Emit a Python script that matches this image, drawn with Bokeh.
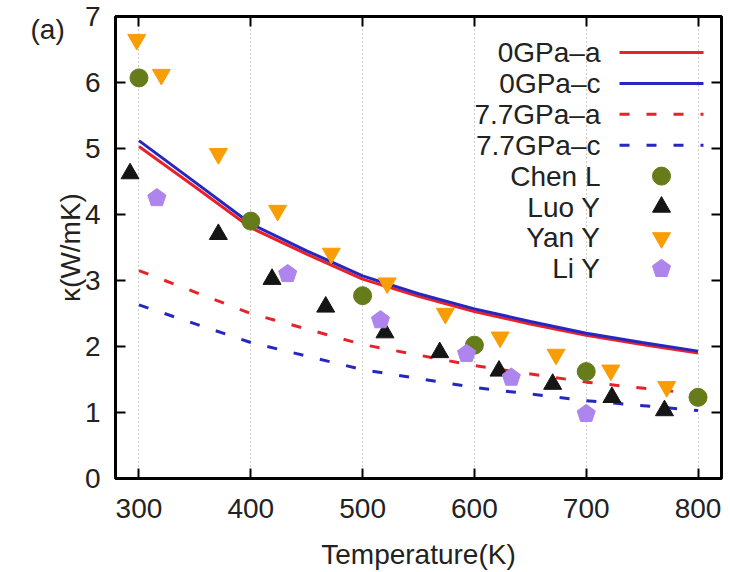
import math
from bokeh.plotting import figure
from bokeh.models import LinearAxis, FixedTicker, Label, Range1d
from bokeh.embed import file_html
from bokeh.resources import INLINE

# ---------------- data ----------------
T_fine = [300, 350, 400, 450, 500, 550, 600, 650, 700, 750, 800]
k_0a = [5.03, 4.42, 3.80, 3.40, 3.02, 2.76, 2.53, 2.34, 2.17, 2.03, 1.90]
k_0c = [5.12, 4.49, 3.86, 3.45, 3.07, 2.80, 2.57, 2.38, 2.20, 2.06, 1.93]

T_hp = [300, 400, 500, 600, 700, 800]
k_77a = [3.15, 2.50, 2.03, 1.71, 1.46, 1.28]
k_77c = [2.63, 2.06, 1.65, 1.38, 1.18, 1.03]

chen_T = [300, 400, 500, 600, 700, 800]
chen_k = [6.07, 3.90, 2.77, 2.02, 1.62, 1.23]

luo_T = [292, 371, 419, 467, 520, 569, 622, 670, 723, 770]
luo_k = [4.62, 3.70, 3.02, 2.60, 2.21, 1.91, 1.63, 1.43, 1.23, 1.03]

yan_T = [298, 320, 371, 424, 472, 522, 574, 623, 673, 722, 772]
yan_k = [6.65, 6.12, 4.92, 4.06, 3.41, 2.96, 2.50, 2.14, 1.88, 1.64, 1.39]

li_T = [316, 433, 516, 593, 633, 700]
li_k = [4.25, 3.10, 2.40, 1.89, 1.53, 0.98]

x_ticks = [300, 400, 500, 600, 700, 800]
y_ticks = [0, 1, 2, 3, 4, 5, 6, 7]

legend_labels = ["0GPa\u2013a", "0GPa\u2013c", "7.7GPa\u2013a", "7.7GPa\u2013c",
                 "Chen L", "Luo Y", "Yan Y", "Li Y"]

# ---------------- style ----------------
RED = "#e8222a"
BLUE = "#2626c0"
OLIVE = "#667b1a"
ORANGE = "#f99d05"
PURPLE = "#ad85ec"
BLACK = "#151515"
FONT = "Liberation Sans"
FS = "28px"

W, H = 730, 572
FL, FR, FT, FB = 115, 721, 16, 478
X0, X1, Y0, Y1 = 279, 821, 0, 7
XPX = (X1 - X0) / (FR - FL)   # data units per pixel, x
YPX = (Y1 - Y0) / (FB - FT)   # data units per pixel, y


def dx(px):
    return X0 + (px - FL) * XPX


def dy(py):
    return Y1 - (py - FT) * YPX


p = figure(width=W, height=H, output_backend="svg", toolbar_location=None,
           x_range=Range1d(X0, X1), y_range=Range1d(Y0, Y1),
           min_border_left=FL, min_border_right=W - FR,
           min_border_top=FT, min_border_bottom=H - FB,
           background_fill_color="white", border_fill_color="white")
p.outline_line_color = "black"
p.outline_line_width = 3
p.outline_line_alpha = 1

# axes
for ax in (p.xaxis[0], p.yaxis[0]):
    ax.axis_line_color = None
    ax.major_tick_in = 10
    ax.major_tick_out = 0
    ax.major_tick_line_width = 2
    ax.major_tick_line_color = "black"
    ax.minor_tick_line_color = None
    ax.major_label_text_font = FONT
    ax.major_label_text_font_size = FS
    ax.major_label_text_color = "#222222"
    ax.axis_label_text_font = FONT
    ax.axis_label_text_font_size = FS
    ax.axis_label_text_font_style = "normal"
    ax.axis_label_text_color = "#222222"

p.yaxis[0].minor_tick_out = 0
p.xaxis[0].ticker = FixedTicker(ticks=x_ticks)
p.yaxis[0].ticker = FixedTicker(ticks=y_ticks)
p.xaxis[0].axis_label = "Temperature(K)"
p.yaxis[0].axis_label = "\u03ba(W/mK)"
p.xaxis[0].major_label_standoff = 20
p.yaxis[0].major_label_standoff = 15
p.xaxis[0].axis_label_standoff = 18
p.yaxis[0].axis_label_standoff = -4

for loc, tk in (("above", x_ticks), ("right", y_ticks)):
    ax = LinearAxis(ticker=FixedTicker(ticks=tk))
    ax.axis_line_color = None
    ax.major_tick_in = 10
    ax.major_tick_out = 0
    ax.minor_tick_out = 0
    ax.major_tick_line_width = 2
    ax.minor_tick_line_color = None
    ax.major_label_text_font_size = "0px"
    ax.major_label_text_color = None
    ax.major_label_standoff = 0
    p.add_layout(ax, loc)

p.xgrid.ticker = FixedTicker(ticks=x_ticks)
p.xgrid.grid_line_color = "#9a9a9a"
p.xgrid.grid_line_dash = "1 3"
p.xgrid.grid_line_width = 1
p.ygrid.grid_line_color = None

# lines
p.line(T_hp, k_77a, line_color=RED, line_width=3, line_dash="10 17")
p.line(T_hp, k_77c, line_color=BLUE, line_width=3, line_dash="10 17")
p.line(T_fine, k_0a, line_color=RED, line_width=3)
p.line(T_fine, k_0c, line_color=BLUE, line_width=3)

# markers
MS = 18


def pentagons(xs, ys, r=9.5):
    pxs, pys = [], []
    for x, y in zip(xs, ys):
        angs = [math.pi / 2 + k * 2 * math.pi / 5 for k in range(5)]
        pxs.append([x + r * math.cos(a) * XPX for a in angs])
        pys.append([y + r * math.sin(a) * YPX for a in angs])
    p.patches(pxs, pys, fill_color=PURPLE, line_color=PURPLE, line_width=1)


p.scatter(chen_T, chen_k, marker="circle", size=MS, fill_color=OLIVE, line_color=OLIVE)
p.scatter(luo_T, luo_k, marker="triangle", size=MS, fill_color=BLACK, line_color=BLACK)
p.scatter(yan_T, yan_k, marker="inverted_triangle", size=MS, fill_color=ORANGE, line_color=ORANGE)
pentagons(li_T, li_k)

# legend (manual, gnuplot style: text right-aligned, sample on right)
rows = [52 + 30.9 * i for i in range(8)]
for lab, ry in zip(legend_labels, rows):
    p.add_layout(Label(x=dx(600), y=dy(ry), text=lab, text_align="right",
                       text_baseline="middle", text_font=FONT, text_font_size=FS,
                       text_color="#222222"))

seg_x0, seg_x1 = dx(619), dx(703)
p.segment(x0=[seg_x0], y0=[dy(rows[0])], x1=[seg_x1], y1=[dy(rows[0])],
          line_color=RED, line_width=3)
p.segment(x0=[seg_x0], y0=[dy(rows[1])], x1=[seg_x1], y1=[dy(rows[1])],
          line_color=BLUE, line_width=3)
p.segment(x0=[seg_x0], y0=[dy(rows[2])], x1=[seg_x1], y1=[dy(rows[2])],
          line_color=RED, line_width=3, line_dash="10 17")
p.segment(x0=[seg_x0], y0=[dy(rows[3])], x1=[seg_x1], y1=[dy(rows[3])],
          line_color=BLUE, line_width=3, line_dash="10 17")
mx = dx(661)
p.scatter([mx], [dy(rows[4])], marker="circle", size=MS, fill_color=OLIVE, line_color=OLIVE)
p.scatter([mx], [dy(rows[5])], marker="triangle", size=MS, fill_color=BLACK, line_color=BLACK)
p.scatter([mx], [dy(rows[6])], marker="inverted_triangle", size=MS, fill_color=ORANGE, line_color=ORANGE)
pentagons([mx], [dy(rows[7])])

# panel tag, placed in the left side panel so it is not clipped by the frame
p.add_layout(Label(x=13, y=FB - 29, x_units="screen", y_units="screen",
                   text="(a)", text_align="left",
                   text_baseline="middle", text_font=FONT, text_font_size=FS,
                   text_color="#222222"), "left")

open("out.html", "w").write(file_html(p, INLINE))
